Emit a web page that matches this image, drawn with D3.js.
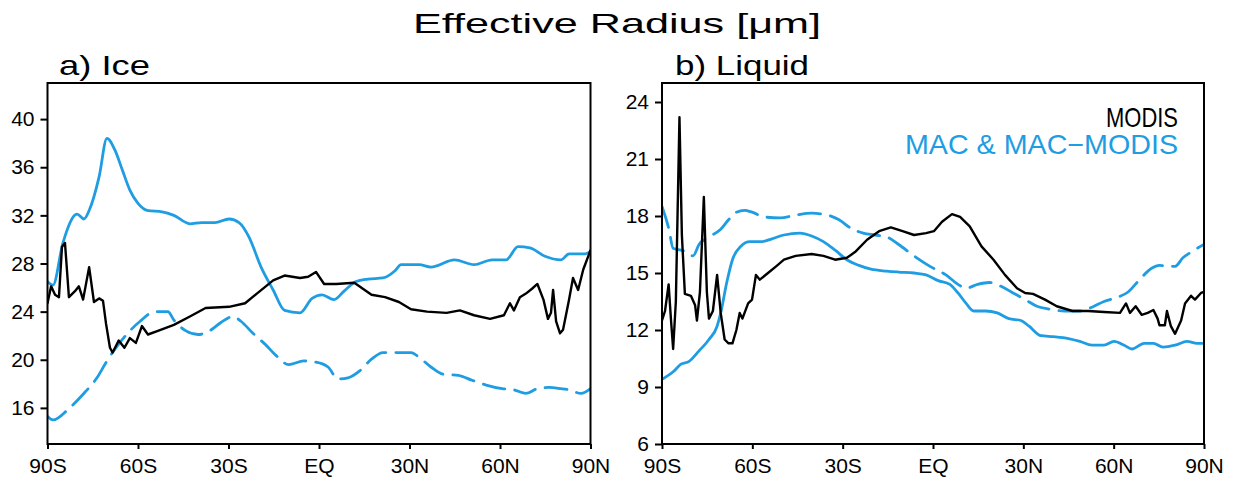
<!DOCTYPE html>
<html>
<head>
<meta charset="utf-8">
<script src="https://cdn.jsdelivr.net/npm/d3@7/dist/d3.min.js"></script>
<style>
  html, body { margin: 0; padding: 0; background: #fff; }
  svg { display: block; }
  text { font-family: "Liberation Sans", "DejaVu Sans", sans-serif; fill: #000; }
</style>
</head>
<body>
<svg id="chart" width="1234" height="480"></svg>
<script>
// ---------------- DATA ----------------
const xTickValues = [-90, -60, -30, 0, 30, 60, 90];
const xTickLabels = ["90S", "60S", "30S", "EQ", "30N", "60N", "90N"];
const iceTicks = [16, 20, 24, 28, 32, 36, 40];
const liqTicks = [6, 9, 12, 15, 18, 21, 24];

// a) Ice — MAC (solid blue)
const iceMacLat = [-90,-88.2,-84.9,-80.2,-77.9,-76.2,-72.9,-70.3,-67.6,-65.1,-62.7,-60,-56.7,-52,-48.1,-42.8,-38.9,-34.5,-29.8,-26.5,-23.2,-19.2,-15.2,-11.4,-6.3,-2.3,1,5,8.3,12.3,16.2,21.2,25.2,27.2,33.2,37.1,44.9,51.4,57.4,62,66,69.9,74.9,80.2,82.9,88.2,90];
const iceMac    = [26.5,26.2,29.7,32.1,31.7,32.4,35.2,38.4,37.4,35.7,34.1,33.0,32.4,32.3,32.0,31.3,31.4,31.4,31.7,31.4,30.2,27.7,25.8,24.1,23.9,25.1,25.4,25.0,25.7,26.5,26.7,26.8,27.4,27.9,27.9,27.7,28.3,27.9,28.3,28.3,29.4,29.3,28.6,28.3,28.8,28.8,29.0];

// a) Ice — MODIS (black)
const iceModisLat = [-90,-88.8,-87.5,-86.2,-85.2,-84.2,-82.9,-80.9,-79.6,-78.2,-76.2,-74.6,-72.9,-71.6,-70.6,-69.3,-68.4,-66.4,-64.5,-62.7,-60.7,-58.7,-56.7,-53.4,-48.1,-42.8,-37.6,-29.8,-24.5,-20.6,-15.2,-11.4,-6.3,-3.6,-1,1.7,5.7,11.7,17.4,21.9,26.5,30.5,35.8,42.3,46.7,51.4,56.7,61.3,63.3,64.6,66.6,68.6,70.6,72.4,74.4,75.9,76.9,77.6,78.6,79.9,80.9,82.9,84.2,85.9,87.6,90];
const iceModis    = [24.7,26.1,25.4,25.2,29.4,29.7,25.2,25.7,26.1,25.0,27.7,24.8,25.1,24.9,23.0,21.0,20.6,21.6,21.0,21.8,21.4,22.8,22.1,22.4,22.9,23.6,24.3,24.4,24.7,25.5,26.6,27.0,26.8,26.9,27.3,26.3,26.3,26.4,25.4,25.2,24.8,24.2,24.0,23.9,24.1,23.7,23.4,23.7,24.7,24.1,25.2,25.5,25.9,26.3,25.0,23.4,23.9,25.8,23.2,22.2,22.5,25.0,26.8,25.8,27.5,29.1];

// a) Ice — MAC-MODIS (dashed blue)
const iceMmLat = [-90,-88.2,-82.9,-77.6,-73.6,-70.3,-66.4,-62.7,-59.3,-54.4,-50.1,-48.1,-44.1,-40.1,-36.3,-32.5,-28.5,-25.9,-21.9,-17.9,-14,-10.1,-5,-1,3,6.3,9.6,13.6,17.4,21.2,25.2,30.5,33.2,37.1,41.1,46.2,50.7,55.4,60.7,64.6,68.6,72.4,76.2,80.2,82.9,86.9,90];
const iceMm    = [15.3,15.0,15.95,17.3,18.5,19.9,21.3,22.4,23.2,24.0,24.0,23.3,22.4,22.1,22.4,23.1,23.6,23.2,22.2,21.3,20.3,19.6,19.9,19.8,19.4,18.4,18.5,19.1,20.05,20.6,20.6,20.6,20.2,19.4,18.8,18.7,18.3,17.9,17.6,17.5,17.2,17.6,17.7,17.6,17.5,17.2,17.6];

// b) Liquid — MAC (solid blue)
const liqMacLat = [-90,-86.3,-83.7,-81,-77.7,-74.4,-71.7,-70.5,-68.5,-66.6,-63.9,-60.8,-56.8,-53.5,-49.5,-44.2,-40.3,-36.4,-32.5,-28.6,-24.6,-20.6,-15.4,-11.4,-6.3,-2.3,1.7,5.6,8.3,11,13.5,17.4,21.3,25.2,29.2,31.9,35.9,39.9,45,48.8,52.8,56.8,60.1,63.5,66.1,70.1,73.2,76.4,80.4,84.4,87.7,90];
const liqMac    = [9.4,9.8,10.2,10.35,10.9,11.5,12.2,12.9,14.5,15.7,16.4,16.65,16.65,16.8,17.0,17.1,16.95,16.65,16.2,15.7,15.4,15.2,15.1,15.05,15.0,14.9,14.6,14.4,13.95,13.4,13.0,13.0,12.9,12.6,12.5,12.2,11.7,11.65,11.55,11.4,11.2,11.2,11.4,11.2,11.0,11.3,11.3,11.1,11.2,11.4,11.3,11.3];

// b) Liquid — MODIS (black)
const liqModisLat = [-90,-89,-87.8,-87,-86.3,-85.4,-84.2,-83.4,-82.4,-80.4,-79,-78.4,-77.4,-76.1,-75.1,-74.4,-73.1,-71.7,-70.5,-69.2,-67.9,-66.6,-65.3,-64.2,-63.3,-61.4,-60.1,-58.8,-57.5,-54.8,-52.1,-49.5,-45.6,-40.3,-36.4,-32.5,-28.6,-25.9,-21.9,-17.9,-14,-10.1,-6.3,-2.3,0.3,3,6.3,9,12.2,16.1,20.1,23.9,27.9,30.6,33.2,37.2,41.1,46.3,51.5,56.8,62.1,64.1,65.4,67.3,69.3,71.3,73.2,74.6,75.2,77,77.7,79,80.4,82.4,83.7,85.7,87,89,90];
const liqModis    = [12.5,13.0,14.4,12.5,11.0,13.5,23.2,17.0,13.9,13.8,13.3,12.5,14.0,19.0,14.0,12.6,13.0,14.9,12.9,11.5,11.3,11.3,12.0,12.9,12.6,13.4,13.6,14.9,14.65,15.0,15.35,15.7,15.9,16.0,15.9,15.7,15.8,16.1,16.75,17.2,17.4,17.2,17.0,17.1,17.2,17.7,18.1,17.95,17.45,16.4,15.7,14.9,14.2,13.95,13.9,13.6,13.25,13.0,13.0,12.95,12.9,13.4,12.9,13.25,12.8,12.9,13.05,12.6,12.25,12.25,13.0,12.2,11.8,12.5,13.4,13.8,13.6,13.95,14.0];

// b) Liquid — MAC-MODIS (dashed blue)
const liqMmLat = [-90,-87.7,-86.3,-83.7,-81.7,-79.7,-77.7,-74.4,-70.5,-67.9,-65.3,-62.6,-60.1,-56.1,-50.8,-45.6,-40.3,-35.1,-31.2,-27.2,-23.2,-19.3,-15.4,-11.4,-6.3,-1,4.3,8.3,11,14.8,18.8,22.6,26.6,30.6,34.5,38.5,43.7,48.9,52.8,56.8,60.8,64.8,68.6,72.6,75.2,77.7,80.4,83,85.7,90];
const liqMm    = [18.5,17.3,16.3,16.2,16.1,15.9,16.5,16.9,17.3,17.8,18.2,18.3,18.2,17.95,17.9,18.05,18.15,18.05,17.8,17.35,17.1,17.0,16.9,16.5,15.9,15.35,14.9,14.4,14.2,14.4,14.5,14.3,13.95,13.6,13.25,13.1,13.0,13.0,13.2,13.5,13.7,14.0,14.65,15.25,15.4,15.35,15.35,15.8,16.1,16.5];

const titleText = "Effective Radius [\u03BCm]";
const legendLabels = ["MODIS", "MAC & MAC\u2212MODIS"];

// ---------------- DRAW ----------------
const BLUE = "#1f9de2";
const svg = d3.select("#chart");
svg.append("rect").attr("width", 1234).attr("height", 480).attr("fill", "#fff");

const plotTop = 83, plotBottom = 444;

svg.append("text").attr("x", 617).attr("y", 33).attr("text-anchor", "middle")
  .attr("font-size", 28).attr("textLength", 408).attr("lengthAdjust", "spacingAndGlyphs")
  .text(titleText);

function panel(cfg) {
  const x = d3.scaleLinear().domain([-90, 90]).range([cfg.left, cfg.right]);
  const y = d3.scaleLinear().domain(cfg.domain).range([plotBottom, plotTop]);
  const g = svg.append("g");

  const yAx = d3.axisLeft(y).tickValues(cfg.ticks).tickSize(7).tickPadding(6).tickFormat(d3.format("d"));
  const ya = g.append("g").attr("transform", `translate(${cfg.left},0)`).call(yAx);
  const xAx = d3.axisBottom(x).tickValues(xTickValues).tickSize(5).tickPadding(9)
    .tickFormat((d, i) => xTickLabels[i]);
  const xa = g.append("g").attr("transform", `translate(0,${plotBottom})`).call(xAx);
  [ya, xa].forEach(a => {
    a.select(".domain").remove();
    a.selectAll("line").attr("stroke", "#000").attr("stroke-width", 2);
    a.selectAll("text").attr("font-size", 21).attr("font-family", "Liberation Sans, DejaVu Sans, sans-serif").attr("fill", "#000");
  });

  const clipId = "clip" + cfg.id;
  svg.append("clipPath").attr("id", clipId).append("rect")
    .attr("x", cfg.left).attr("y", plotTop).attr("width", cfg.right - cfg.left).attr("height", plotBottom - plotTop);

  const plot = g.append("g").attr("clip-path", `url(#${clipId})`);
  cfg.series.forEach(s => {
    const pts = s.lat.map((la, i) => [la, s.val[i]]);
    const line = d3.line().x(d => x(d[0])).y(d => y(d[1]))
      .curve(s.smooth ? d3.curveMonotoneX : d3.curveLinear);
    plot.append("path").attr("d", line(pts)).attr("fill", "none")
      .attr("stroke", s.color).attr("stroke-width", s.width)
      .attr("stroke-linejoin", "round").attr("stroke-linecap", "round")
      .attr("stroke-dasharray", s.dash || null);
  });

  g.append("rect").attr("x", cfg.left).attr("y", plotTop)
    .attr("width", cfg.right - cfg.left).attr("height", plotBottom - plotTop)
    .attr("fill", "none").attr("stroke", "#000").attr("stroke-width", 2);

  g.append("text").attr("x", cfg.labelX).attr("y", 75).attr("font-size", 28)
    .attr("textLength", cfg.labelLen).attr("lengthAdjust", "spacingAndGlyphs")
    .text(cfg.label);
  return {x, y, g};
}

panel({
  id: "a", left: 47.5, right: 590.5, domain: [13, 43], ticks: iceTicks,
  label: "a) Ice", labelX: 59, labelLen: 91,
  series: [
    {lat: iceMmLat, val: iceMm, color: BLUE, width: 2.8, dash: "22,10", smooth: true},
    {lat: iceMacLat, val: iceMac, color: BLUE, width: 2.8, smooth: true},
    {lat: iceModisLat, val: iceModis, color: "#000", width: 2.4}
  ]
});

const pb = panel({
  id: "b", left: 662, right: 1204, domain: [6, 25], ticks: liqTicks,
  label: "b) Liquid", labelX: 675, labelLen: 134,
  series: [
    {lat: liqMmLat, val: liqMm, color: BLUE, width: 2.8, dash: "22,10", smooth: true},
    {lat: liqMacLat, val: liqMac, color: BLUE, width: 2.8, smooth: true},
    {lat: liqModisLat, val: liqModis, color: "#000", width: 2.4}
  ]
});

// legend
pb.g.append("text").attr("x", 1178).attr("y", 127).attr("text-anchor", "end")
  .attr("font-size", 28).attr("textLength", 72).attr("lengthAdjust", "spacingAndGlyphs")
  .text(legendLabels[0]);
pb.g.append("text").attr("x", 1178).attr("y", 154).attr("text-anchor", "end")
  .attr("font-size", 28).attr("textLength", 273).attr("lengthAdjust", "spacingAndGlyphs")
  .style("fill", BLUE).text(legendLabels[1]);
</script>
</body>
</html>
